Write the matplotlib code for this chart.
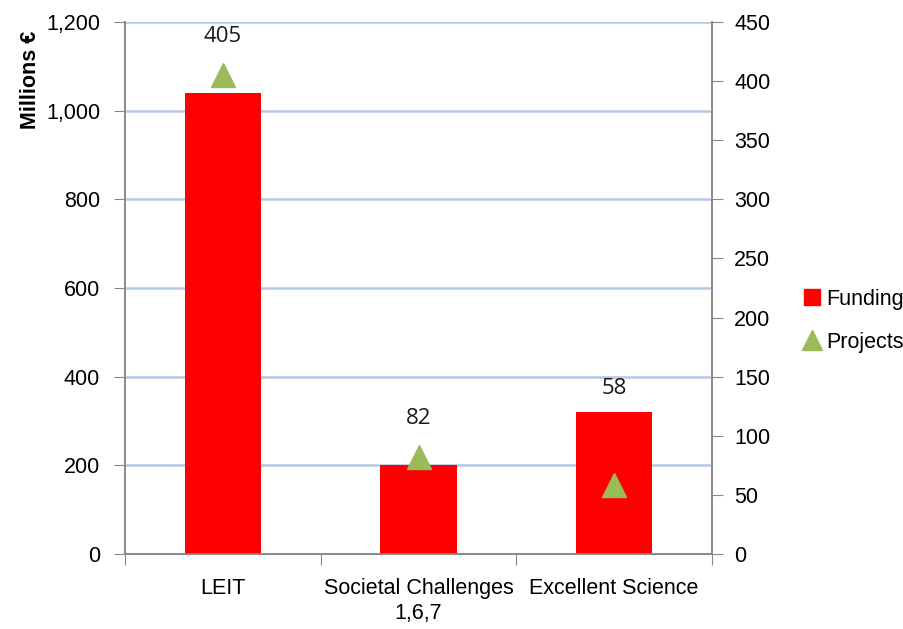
import matplotlib
matplotlib.use("Agg")
import matplotlib.pyplot as plt
from matplotlib.lines import Line2D

categories = ["LEIT", "Societal Challenges\n1,6,7", "Excellent Science"]
funding = [1040, 200, 320]
projects = [405, 82, 58]
left_ticks = [0, 200, 400, 600, 800, 1000, 1200]
right_ticks = [0, 50, 100, 150, 200, 250, 300, 350, 400, 450]

font = "Liberation Sans"

fig = plt.figure(figsize=(9.04, 6.29), dpi=100)
ax = fig.add_axes([0.1383, 0.1192, 0.6493, 0.8458])
ax2 = ax.twinx()

x = list(range(len(categories)))
ax.bar(x, funding, width=0.39, color="#ff0000", edgecolor="none", zorder=3)
ax.set_ylim(0, 1200)
ax.set_xlim(-0.5, 2.5)
ax.set_yticks(left_ticks)
ax.set_yticklabels([f"{v:,}" for v in left_ticks], fontfamily=font, fontsize=15.5)
ax.yaxis.grid(True, color="#b4c8e6", linewidth=1.8, zorder=0)
ax.set_axisbelow(True)
ax.set_xticks([-0.5, 0.5, 1.5, 2.5])
ax.set_xticklabels([])
ax.set_xticks(x, minor=True)
ax.set_xticklabels(categories, minor=True, fontfamily=font, fontsize=15.5, va="top",
                   linespacing=1.25)
ax.tick_params(axis="x", which="minor", length=0, pad=17)
ax.tick_params(axis="x", which="major", length=8, color="#888888")
ax.tick_params(axis="y", length=8, color="#888888", pad=10)
fig.text(30 / 904, 1 - 80 / 629, "Millions €", rotation=90, ha="center", va="center",
         fontfamily=font, fontweight="bold", fontsize=15.5)

ax2.plot(x, projects, linestyle="none", marker="^", markersize=17, color="#9bbb59", zorder=5)
ax2.set_ylim(0, 450)
ax2.set_yticks(right_ticks)
ax2.set_yticklabels([str(v) for v in right_ticks], fontfamily=font, fontsize=15.5)
ax2.tick_params(axis="y", length=8, color="#888888", pad=8)

for a in (ax, ax2):
    a.spines["top"].set_visible(False)
    for s in ("left", "right", "bottom"):
        a.spines[s].set_color("#888888")
        a.spines[s].set_linewidth(1.2)

# data labels above the marker, or above the bar when the bar is higher
for xi, f, p in zip(x, funding, projects):
    bar_top = f / 1200 * 450
    if bar_top > p + 10:
        y, off = bar_top, 17
    else:
        y, off = p, 28
    ax2.annotate(str(p), (xi, y), xytext=(0, off), textcoords="offset points",
                 ha="center", va="center", fontsize=16, fontfamily="Open Sans", color="#1a1a1a")

handles = [Line2D([], [], linestyle="none", marker="s", markersize=11, color="#ff0000"),
           Line2D([], [], linestyle="none", marker="^", markersize=15, color="#9bbb59")]
fig.legend(handles, ["Funding", "Projects"], loc="center left", bbox_to_anchor=(0.884, 0.49),
           frameon=False, prop={"family": font, "size": 15.5}, handletextpad=0.05,
           labelspacing=1.0, handlelength=1.2, borderaxespad=0, borderpad=0)

fig.savefig("out.png", dpi=100)
